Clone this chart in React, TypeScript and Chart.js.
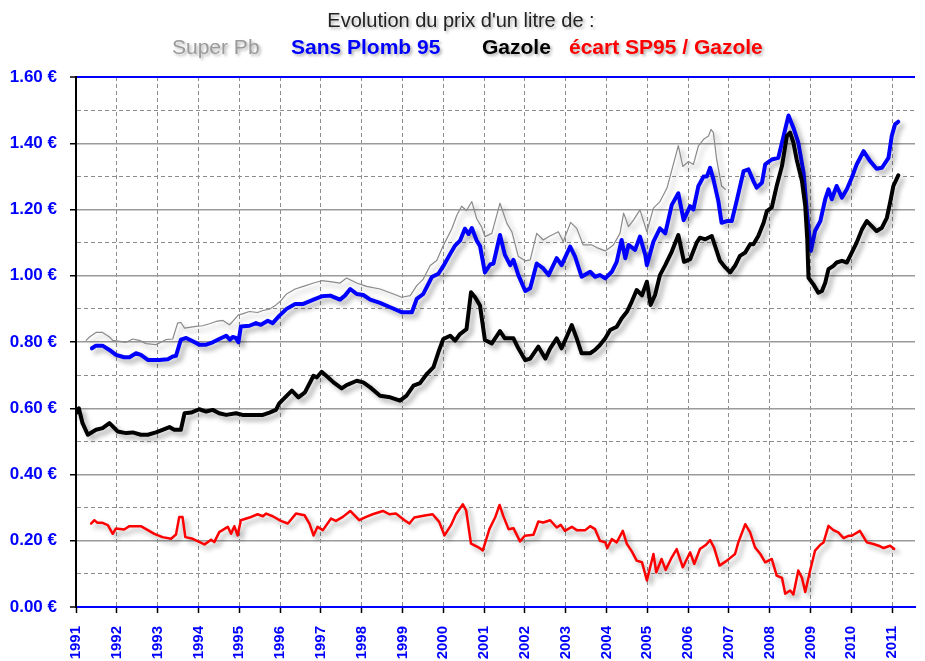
import React, { useEffect, useRef } from "react";
import { Chart, registerables } from "chart.js";

Chart.register(...registerables);

const FONT = '"Liberation Sans", Arial, sans-serif';

const titleText = "Evolution du prix d'un litre de :";
const legendLabels = ["Super Pb", "Sans Plomb 95", "Gazole", "écart SP95 / Gazole"];
const legendColors = ["#9a9a9a", "#0000ff", "#000000", "#ff0000"];

const superPbYears = [
  1991.25, 1991.33, 1991.49, 1991.65, 1991.82, 1991.9, 1992.23, 1992.39, 1992.55, 1992.72, 1992.96,
  1993.2, 1993.37, 1993.49, 1993.57, 1993.66, 1993.82, 1993.94, 1994.1, 1994.27, 1994.43, 1994.6,
  1994.76, 1994.84, 1994.98, 1995.08, 1995.25, 1995.45, 1995.58, 1995.74, 1995.9, 1996.0, 1996.16,
  1996.37, 1996.57, 1996.82, 1997.02, 1997.23, 1997.47, 1997.63, 1997.88, 1998.12, 1998.45, 1998.78,
  1998.98, 1999.19, 1999.35, 1999.51, 1999.68, 1999.84, 2000.0, 2000.21, 2000.33, 2000.45, 2000.57,
  2000.7, 2000.82, 2000.94, 2001.02, 2001.19, 2001.39, 2001.56, 2001.68, 2001.84, 2002.01, 2002.13,
  2002.29, 2002.45, 2002.58, 2002.82, 2002.94, 2003.12, 2003.27, 2003.43, 2003.64, 2003.76, 2003.97,
  2004.17, 2004.33, 2004.42, 2004.54, 2004.66, 2004.82, 2004.99, 2005.15, 2005.31, 2005.48, 2005.6,
  2005.76, 2005.87, 2006.01, 2006.13, 2006.25, 2006.38, 2006.5, 2006.56, 2006.62, 2006.7, 2006.82,
  2006.91,
];
const superPbValues = [
  0.805, 0.815, 0.829, 0.829, 0.815, 0.805, 0.799, 0.809, 0.805, 0.795, 0.792,
  0.807, 0.809, 0.857, 0.859, 0.842, 0.845, 0.847, 0.849, 0.855, 0.862, 0.865,
  0.852, 0.862, 0.882, 0.885, 0.892, 0.889, 0.895, 0.899, 0.912, 0.922, 0.945,
  0.96, 0.968, 0.978, 0.985, 0.982, 0.978, 0.993, 0.978, 0.968, 0.96, 0.945,
  0.935, 0.94, 0.97, 0.99, 1.031, 1.046, 1.091, 1.142, 1.182, 1.21, 1.197,
  1.224, 1.172, 1.147, 1.118, 1.128, 1.219, 1.158, 1.133, 1.058, 1.045, 1.048,
  1.128, 1.108, 1.118, 1.133, 1.103, 1.161, 1.143, 1.093, 1.093, 1.085, 1.075,
  1.093, 1.128, 1.189, 1.148, 1.168, 1.199, 1.133, 1.204, 1.224, 1.264, 1.319,
  1.393, 1.33, 1.345, 1.336, 1.391, 1.412, 1.422, 1.442, 1.432, 1.351, 1.271,
  1.261,
];

const sp95Years = [
  1991.39, 1991.49, 1991.65, 1991.82, 1991.98, 1992.18, 1992.31, 1992.47, 1992.59, 1992.76, 1993.04,
  1993.25, 1993.37, 1993.45, 1993.57, 1993.7, 1993.86, 1994.02, 1994.19, 1994.35, 1994.51, 1994.68,
  1994.77, 1994.84, 1994.92, 1994.98, 1995.04, 1995.25, 1995.41, 1995.53, 1995.7, 1995.82, 1995.98,
  1996.16, 1996.37, 1996.57, 1996.82, 1997.02, 1997.23, 1997.47, 1997.59, 1997.72, 1997.88, 1998.04,
  1998.21, 1998.45, 1998.7, 1998.98, 1999.23, 1999.35, 1999.51, 1999.72, 1999.88, 2000.0, 2000.17,
  2000.29, 2000.41, 2000.53, 2000.62, 2000.7, 2000.82, 2000.9, 2001.02, 2001.15, 2001.23, 2001.39,
  2001.51, 2001.64, 2001.72, 2001.84, 2002.01, 2002.13, 2002.29, 2002.45, 2002.58, 2002.78, 2002.9,
  2003.11, 2003.23, 2003.39, 2003.6, 2003.72, 2003.84, 2003.97, 2004.13, 2004.25, 2004.37, 2004.46,
  2004.54, 2004.7, 2004.82, 2004.95, 2004.99, 2005.15, 2005.31, 2005.44, 2005.6, 2005.76, 2005.89,
  2006.05, 2006.13, 2006.25, 2006.38, 2006.46, 2006.54, 2006.62, 2006.74, 2006.82, 2006.95, 2007.07,
  2007.19, 2007.36, 2007.48, 2007.6, 2007.68, 2007.81, 2007.89, 2008.05, 2008.21, 2008.34, 2008.46,
  2008.58, 2008.7, 2008.83, 2008.92, 2009.01, 2009.11, 2009.24, 2009.36, 2009.44, 2009.52, 2009.64,
  2009.77, 2009.89, 2010.01, 2010.13, 2010.3, 2010.46, 2010.62, 2010.75, 2010.91, 2010.99, 2011.07,
  2011.15,
];
const sp95Values = [
  0.781, 0.789, 0.789, 0.776, 0.761, 0.754, 0.754, 0.766, 0.761, 0.746, 0.746,
  0.748, 0.756, 0.758, 0.807, 0.812, 0.802, 0.792, 0.792, 0.799, 0.809, 0.819,
  0.807, 0.815, 0.812, 0.799, 0.847, 0.849, 0.857, 0.852, 0.864, 0.857, 0.879,
  0.9, 0.915, 0.915, 0.928, 0.938, 0.94, 0.928, 0.94, 0.96, 0.945, 0.942,
  0.928, 0.918, 0.905, 0.89, 0.89, 0.93, 0.945, 0.996, 1.006, 1.029, 1.066,
  1.091, 1.106, 1.142, 1.126, 1.144, 1.106, 1.09, 1.01, 1.034, 1.037, 1.123,
  1.063, 1.032, 1.048, 1.002, 0.954, 0.962, 1.037, 1.022, 1.002, 1.053, 1.032,
  1.088, 1.058, 0.997, 1.012, 0.997, 1.002, 0.992, 1.012, 1.042, 1.108, 1.053,
  1.093, 1.078, 1.118, 1.063, 1.032, 1.103, 1.143, 1.128, 1.214, 1.249, 1.168,
  1.21, 1.2, 1.27, 1.3, 1.3, 1.326, 1.291, 1.226, 1.16, 1.165, 1.165,
  1.226, 1.316, 1.321, 1.286, 1.266, 1.281, 1.336, 1.351, 1.356, 1.422, 1.484,
  1.447, 1.402, 1.311, 1.18, 1.075, 1.135, 1.165, 1.231, 1.261, 1.231, 1.271,
  1.236, 1.261, 1.296, 1.336, 1.376, 1.346, 1.323, 1.326, 1.356, 1.422, 1.457,
  1.465,
];

const gazoleYears = [
  1991.0, 1991.07, 1991.16, 1991.29, 1991.49, 1991.65, 1991.82, 1991.9, 1992.02, 1992.23, 1992.39,
  1992.59, 1992.76, 1992.96, 1993.12, 1993.29, 1993.41, 1993.57, 1993.66, 1993.82, 1994.02, 1994.19,
  1994.35, 1994.51, 1994.68, 1994.92, 1995.08, 1995.33, 1995.58, 1995.74, 1995.9, 1995.98, 1996.1,
  1996.29, 1996.45, 1996.61, 1996.82, 1996.9, 1997.02, 1997.18, 1997.31, 1997.51, 1997.63, 1997.88,
  1998.04, 1998.21, 1998.45, 1998.7, 1998.94, 1999.1, 1999.27, 1999.43, 1999.6, 1999.76, 1999.88,
  2000.0, 2000.17, 2000.29, 2000.41, 2000.57, 2000.68, 2000.78, 2000.9, 2001.02, 2001.19, 2001.39,
  2001.51, 2001.72, 2001.84, 2002.01, 2002.13, 2002.33, 2002.5, 2002.62, 2002.78, 2002.9, 2003.15,
  2003.27, 2003.39, 2003.6, 2003.72, 2003.84, 2003.97, 2004.09, 2004.25, 2004.37, 2004.5, 2004.62,
  2004.74, 2004.87, 2004.99, 2005.08, 2005.19, 2005.31, 2005.44, 2005.6, 2005.76, 2005.9, 2006.05,
  2006.21, 2006.29, 2006.42, 2006.58, 2006.66, 2006.78, 2006.91, 2007.03, 2007.15, 2007.27, 2007.4,
  2007.52, 2007.6, 2007.72, 2007.85, 2007.93, 2008.05, 2008.17, 2008.3, 2008.42, 2008.5, 2008.58,
  2008.66, 2008.79, 2008.87, 2008.92, 2008.95, 2009.07, 2009.19, 2009.28, 2009.36, 2009.44, 2009.56,
  2009.64, 2009.77, 2009.89, 2010.01, 2010.13, 2010.26, 2010.38, 2010.5, 2010.62, 2010.75, 2010.87,
  2010.95, 2011.03, 2011.15,
];
const gazoleValues = [
  0.585, 0.6, 0.555, 0.52, 0.535, 0.54, 0.555, 0.545, 0.53, 0.525, 0.527,
  0.52, 0.52, 0.527, 0.535, 0.543, 0.535, 0.535, 0.585, 0.587, 0.597, 0.59,
  0.595, 0.585, 0.58, 0.585, 0.58, 0.58, 0.58, 0.587, 0.595, 0.615, 0.63,
  0.653, 0.633, 0.648, 0.698, 0.693, 0.71, 0.693, 0.678, 0.66, 0.67, 0.683,
  0.678, 0.663, 0.638, 0.633, 0.623, 0.638, 0.668, 0.676, 0.704, 0.724, 0.769,
  0.809, 0.819, 0.804, 0.824, 0.839, 0.95, 0.935, 0.91, 0.806, 0.796, 0.833,
  0.811, 0.811, 0.781, 0.745, 0.75, 0.786, 0.75, 0.781, 0.811, 0.781, 0.851,
  0.811, 0.766, 0.766, 0.776, 0.791, 0.811, 0.836, 0.846, 0.871, 0.891, 0.922,
  0.957, 0.941, 0.982, 0.912, 0.942, 1.002, 1.032, 1.073, 1.123, 1.042, 1.05,
  1.1, 1.115, 1.11, 1.12, 1.09, 1.045, 1.025, 1.01, 1.03, 1.06, 1.07,
  1.095, 1.095, 1.12, 1.16, 1.195, 1.206, 1.271, 1.331, 1.422, 1.432, 1.402,
  1.351, 1.286, 1.211, 1.11, 0.994, 0.974, 0.949, 0.954, 0.979, 1.02, 1.03,
  1.04, 1.045, 1.04, 1.07, 1.1, 1.14, 1.165, 1.15, 1.135, 1.145, 1.175,
  1.221, 1.271, 1.303,
];

const ecartYears = [
  1991.37, 1991.45, 1991.53, 1991.65, 1991.78, 1991.9, 1991.98, 1992.18, 1992.31, 1992.59, 1992.76,
  1992.92, 1993.12, 1993.33, 1993.45, 1993.53, 1993.61, 1993.68, 1993.86, 1994.15, 1994.31, 1994.39,
  1994.51, 1994.72, 1994.8, 1994.88, 1994.96, 1995.04, 1995.25, 1995.45, 1995.58, 1995.66, 1995.82,
  1996.02, 1996.19, 1996.39, 1996.6, 1996.72, 1996.82, 1996.92, 1997.05, 1997.25, 1997.37, 1997.54,
  1997.72, 1997.94, 1998.11, 1998.27, 1998.52, 1998.68, 1998.84, 1999.05, 1999.17, 1999.29, 1999.58,
  1999.74, 1999.9, 2000.03, 2000.19, 2000.31, 2000.48, 2000.56, 2000.68, 2000.85, 2000.97, 2001.13,
  2001.27, 2001.38, 2001.47, 2001.6, 2001.72, 2001.88, 2002.0, 2002.21, 2002.33, 2002.45, 2002.62,
  2002.78, 2002.88, 2002.98, 2003.15, 2003.27, 2003.48, 2003.6, 2003.72, 2003.84, 2003.97, 2004.02,
  2004.13, 2004.25, 2004.4, 2004.5, 2004.62, 2004.74, 2004.87, 2004.99, 2005.15, 2005.22, 2005.35,
  2005.45, 2005.6, 2005.72, 2005.87, 2006.05, 2006.15, 2006.29, 2006.44, 2006.54, 2006.64, 2006.77,
  2006.95, 2007.15, 2007.23, 2007.4, 2007.52, 2007.64, 2007.77, 2007.89, 2008.05, 2008.17, 2008.3,
  2008.38, 2008.5, 2008.58, 2008.7, 2008.79, 2008.87, 2008.99, 2009.11, 2009.24, 2009.32, 2009.44,
  2009.56, 2009.68, 2009.81, 2009.93, 2010.01, 2010.21, 2010.38, 2010.54, 2010.67, 2010.79, 2010.95,
  2011.05,
];
const ecartValues = [
  0.252, 0.262, 0.254, 0.254, 0.247, 0.221, 0.237, 0.234, 0.244, 0.244, 0.232,
  0.221, 0.211, 0.206, 0.219, 0.272, 0.272, 0.211, 0.206, 0.189, 0.203, 0.196,
  0.226, 0.242, 0.221, 0.244, 0.216, 0.262, 0.27, 0.28, 0.274, 0.282, 0.274,
  0.26, 0.252, 0.282, 0.277, 0.252, 0.216, 0.242, 0.232, 0.267, 0.26, 0.272,
  0.29, 0.262, 0.272, 0.28, 0.29, 0.28, 0.282, 0.262, 0.252, 0.27, 0.277,
  0.28, 0.257, 0.216, 0.247, 0.28, 0.31, 0.292, 0.191, 0.181, 0.171, 0.235,
  0.27, 0.308, 0.275, 0.235, 0.238, 0.198, 0.215, 0.218, 0.258, 0.255, 0.262,
  0.24, 0.248, 0.23, 0.242, 0.232, 0.232, 0.244, 0.235, 0.2, 0.195, 0.178,
  0.205, 0.195, 0.23, 0.19, 0.168, 0.14, 0.135, 0.08, 0.16, 0.105, 0.145,
  0.112, 0.15, 0.175, 0.12, 0.165, 0.13, 0.175, 0.188, 0.202, 0.178, 0.125,
  0.14, 0.16, 0.195, 0.25, 0.225, 0.18, 0.16, 0.135, 0.145, 0.095, 0.088,
  0.04, 0.05, 0.038, 0.11, 0.088, 0.045, 0.11, 0.17, 0.188, 0.195, 0.245,
  0.232, 0.225, 0.208, 0.215, 0.215, 0.23, 0.195, 0.19, 0.185, 0.178, 0.185,
  0.175,
];

const toPoints = (xs: number[], ys: number[]) => xs.map((x, i) => ({ x, y: ys[i] }));

const isMajor = (v: number) => Math.round(v * 10) % 2 === 0;

const shadowPlugin = {
  id: "lineShadow",
  beforeDatasetDraw(chart: any) {
    const ctx = chart.ctx;
    ctx.save();
    ctx.shadowColor = "rgba(0,0,0,0.32)";
    ctx.shadowBlur = 5;
    ctx.shadowOffsetX = 4;
    ctx.shadowOffsetY = 4;
  },
  afterDatasetDraw(chart: any) {
    chart.ctx.restore();
  },
};

const headerPlugin = {
  id: "header",
  afterDraw(chart: any) {
    const ctx = chart.ctx;
    ctx.save();
    ctx.shadowColor = "rgba(0,0,0,0.3)";
    ctx.shadowBlur = 3;
    ctx.shadowOffsetX = 2;
    ctx.shadowOffsetY = 2;
    ctx.textBaseline = "middle";
    ctx.textAlign = "center";
    ctx.font = `20px ${FONT}`;
    ctx.fillStyle = "#222";
    ctx.fillText(titleText, 461, 21);
    const starts = [172, 291, 482, 569];
    ctx.textAlign = "left";
    legendLabels.forEach((lab, i) => {
      ctx.font = i === 0 ? `21px ${FONT}` : `bold 21px ${FONT}`;
      ctx.fillStyle = legendColors[i];
      ctx.fillText(lab, starts[i], 48);
    });
    ctx.restore();
  },
};

export default function App() {
  const ref = useRef<HTMLCanvasElement | null>(null);
  useEffect(() => {
    document.body.style.margin = "0";
    document.body.style.background = "#fff";
    if (!ref.current) return;
    const chart = new Chart(ref.current, {
      type: "line",
      data: {
        datasets: [
          {
            label: legendLabels[3],
            data: toPoints(ecartYears, ecartValues),
            borderColor: "#ff0000",
            borderWidth: 2.5,
            pointRadius: 0,
          },
          {
            label: legendLabels[2],
            data: toPoints(gazoleYears, gazoleValues),
            borderColor: "#000000",
            borderWidth: 4,
            pointRadius: 0,
          },
          {
            label: legendLabels[1],
            data: toPoints(sp95Years, sp95Values),
            borderColor: "#0000ff",
            borderWidth: 4,
            pointRadius: 0,
          },
          {
            label: legendLabels[0],
            data: toPoints(superPbYears, superPbValues),
            borderColor: "#8a8a8a",
            borderWidth: 1.2,
            pointRadius: 0,
          },
        ],
      },
      options: {
        animation: false,
        responsive: false,
        maintainAspectRatio: false,
        layout: { padding: { top: 77, right: 10, left: 0, bottom: 0 } },
        elements: { line: { tension: 0, borderJoinStyle: "round", borderCapStyle: "round" } },
        plugins: { legend: { display: false }, tooltip: { enabled: false }, title: { display: false } },
        scales: {
          x: {
            type: "linear",
            min: 1991,
            max: 2011.56,
            afterBuildTicks: (s: any) => {
              s.ticks = s.ticks.filter((t: any) => Math.abs(t.value - Math.round(t.value)) < 1e-6);
            },
            afterFit: (s: any) => {
              s.height = 54;
            },
            ticks: {
              stepSize: 1,
              autoSkip: false,
              minRotation: 90,
              maxRotation: 90,
              color: "#0000ff",
              padding: 13,
              font: { family: FONT, size: 15, weight: "bold" },
              callback: (v: any) => String(Math.round(Number(v))),
            },
            grid: {
              color: "#8c8c8c",
              lineWidth: 1,
              tickColor: "#000",
              tickLength: 6,
              tickWidth: 1.5,
            },
            border: {
              color: "#0000ff",
              width: 2,
              dash: (ctx: any) => (ctx.tick ? [4, 3] : []),
            },
          },
          y: {
            min: 0,
            max: 1.6,
            afterFit: (s: any) => {
              s.width = 76;
            },
            ticks: {
              stepSize: 0.1,
              autoSkip: false,
              color: "#0000ff",
              padding: 13,
              font: { family: FONT, size: 17, weight: "bold" },
              callback: (v: any) => (isMajor(Number(v)) ? Number(v).toFixed(2) + " €" : ""),
            },
            grid: {
              color: (ctx: any) => {
                const v = ctx.tick ? ctx.tick.value : 0;
                if (Math.abs(v) < 1e-6 || Math.abs(v - 1.6) < 1e-6) return "#0000ff";
                return isMajor(v) ? "#9a9a9a" : "#8c8c8c";
              },
              lineWidth: (ctx: any) => {
                const v = ctx.tick ? ctx.tick.value : 0;
                if (Math.abs(v) < 1e-6 || Math.abs(v - 1.6) < 1e-6) return 2;
                return isMajor(v) ? 1.5 : 1;
              },
              tickColor: (ctx: any) => (ctx.tick && isMajor(ctx.tick.value) ? "#000" : "rgba(0,0,0,0)"),
              tickLength: 6,
              tickWidth: 1.5,
            },
            border: {
              color: "#000",
              width: 2,
              dash: (ctx: any) => (ctx.tick && !isMajor(ctx.tick.value) ? [4, 3] : []),
            },
          },
        },
      },
      plugins: [shadowPlugin, headerPlugin],
    } as any);
    return () => chart.destroy();
  }, []);
  return (
    <div style={{ width: 925, height: 661, background: "#fff" }}>
      <canvas ref={ref} width={925} height={661} />
    </div>
  );
}
